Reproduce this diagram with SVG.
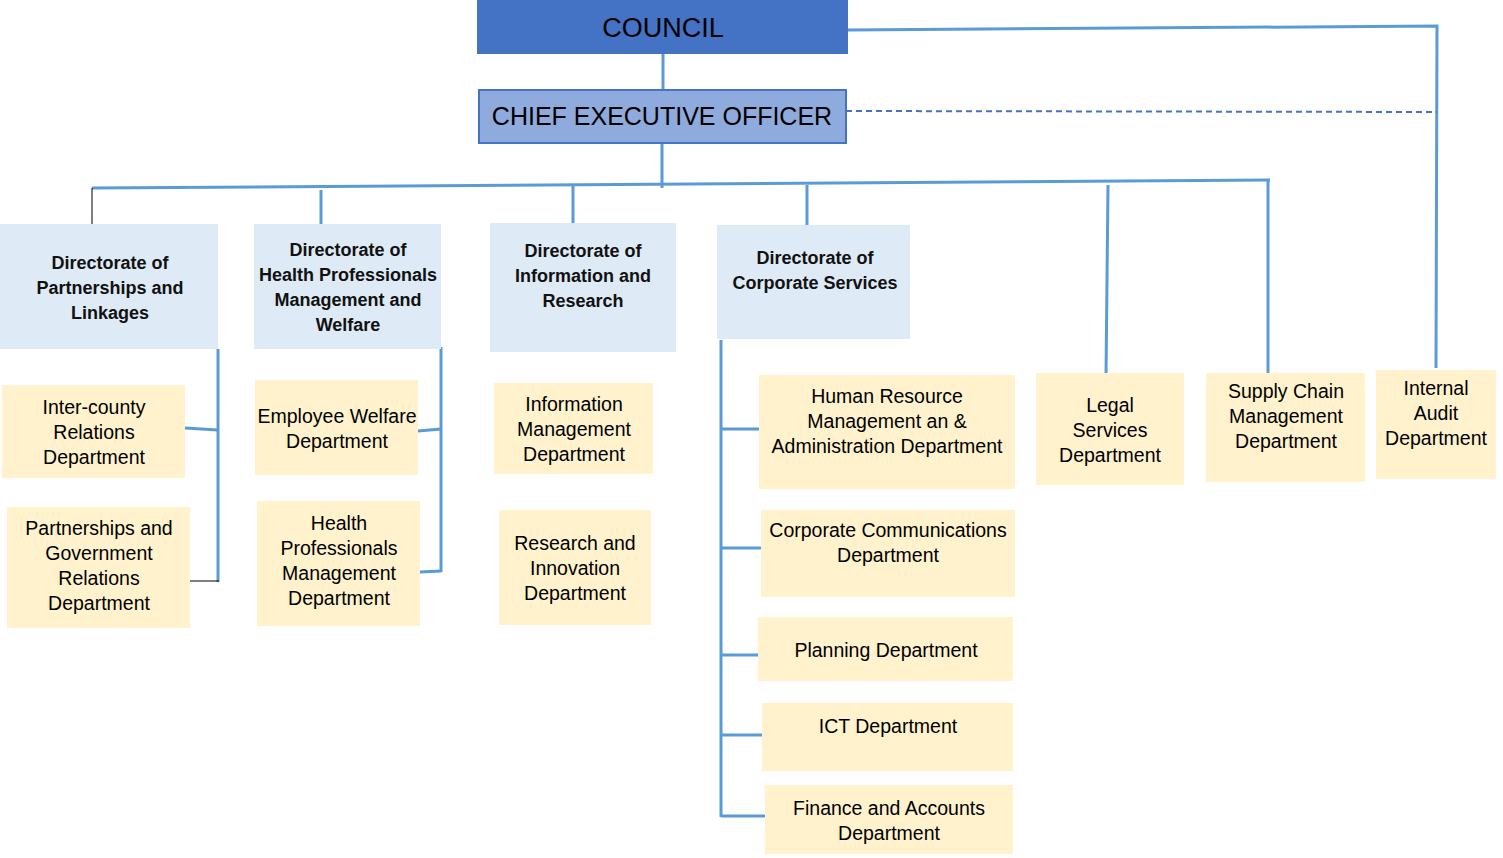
<svg xmlns="http://www.w3.org/2000/svg" width="1503" height="858" viewBox="0 0 1503 858">
<style>
text{font-family:"Liberation Sans",Arial,sans-serif;fill:#000;text-anchor:middle}
.top{font-size:25px}
.dir{font-size:18px;font-weight:bold;fill:#111}
.dept{font-size:19.5px}
.d{fill:#DEEAF6}
.p{fill:#FFF2CC}
.c{stroke:#5B9BD5;stroke-width:3;fill:none}
.k{stroke:#000;stroke-width:1;fill:none}
</style>
<rect width="1503" height="858" fill="#fff"/>
<g id="connectors">
<line class="c" x1="663" y1="54" x2="663" y2="89"/>
<line class="c" x1="662" y1="143" x2="662" y2="188"/>
<line class="c" x1="92" y1="188" x2="1270" y2="180"/>
<line class="k" x1="92" y1="188" x2="92" y2="224"/>
<line class="c" x1="321" y1="190" x2="321" y2="226"/>
<line class="c" x1="573" y1="186" x2="573" y2="228"/>
<line class="c" x1="807" y1="185" x2="807" y2="227"/>
<line class="c" x1="1108" y1="185" x2="1106" y2="377"/>
<line class="c" x1="1268" y1="180" x2="1268" y2="373"/>
<polyline class="c" points="848,30 1437,26 1436,368"/>
<line x1="846" y1="111" x2="1437" y2="112" stroke="#4472C4" stroke-width="2" stroke-dasharray="6,4"/>
<line class="c" x1="218" y1="349" x2="218" y2="582"/>
<line class="c" x1="185" y1="428" x2="218" y2="430"/>
<line class="k" x1="190" y1="581" x2="219" y2="581"/>
<line class="c" x1="441" y1="347" x2="441" y2="572"/>
<line class="c" x1="418" y1="431" x2="441" y2="429"/>
<line class="c" x1="420" y1="572" x2="441" y2="571"/>
<line class="c" x1="721" y1="340" x2="721" y2="817"/>
<line class="c" x1="721" y1="429" x2="759" y2="429"/>
<line class="c" x1="721" y1="548" x2="761" y2="548"/>
<line class="c" x1="721" y1="655" x2="758" y2="655"/>
<line class="c" x1="721" y1="735" x2="762" y2="735"/>
<line class="c" x1="721" y1="816" x2="765" y2="816"/>
</g>
<g id="council"><rect x="477" y="0" width="371" height="54" fill="#4472C4"/><text class="top" x="663" y="37" style="font-size:27px">COUNCIL</text></g>
<g id="ceo"><rect x="479" y="90" width="367" height="53" fill="#8FAADC" stroke="#4472C4" stroke-width="2"/><text class="top" x="662" y="125">CHIEF EXECUTIVE OFFICER</text></g>
<g id="dir-partnerships"><rect class="d" x="0" y="224" width="218" height="125"/><text class="dir" x="110" y="269">Directorate of</text><text class="dir" x="110" y="294">Partnerships and</text><text class="dir" x="110" y="319">Linkages</text></g>
<g id="dir-health"><rect class="d" x="254" y="224" width="187" height="125"/><text class="dir" x="348" y="256">Directorate of</text><text class="dir" x="348" y="281">Health Professionals</text><text class="dir" x="348" y="306">Management and</text><text class="dir" x="348" y="331">Welfare</text></g>
<g id="dir-info"><rect class="d" x="490" y="223" width="186" height="129"/><text class="dir" x="583" y="257">Directorate of</text><text class="dir" x="583" y="282">Information and</text><text class="dir" x="583" y="307">Research</text></g>
<g id="dir-corporate"><rect class="d" x="717" y="225" width="193" height="114"/><text class="dir" x="815" y="264">Directorate of</text><text class="dir" x="815" y="289">Corporate Services</text></g>
<g id="intercounty"><rect class="p" x="2" y="385" width="183" height="93"/><text class="dept" x="94" y="414">Inter-county</text><text class="dept" x="94" y="439">Relations</text><text class="dept" x="94" y="464">Department</text></g>
<g id="partnerships-gov"><rect class="p" x="7" y="507" width="183" height="121"/><text class="dept" x="99" y="535">Partnerships and</text><text class="dept" x="99" y="560">Government</text><text class="dept" x="99" y="585">Relations</text><text class="dept" x="99" y="610">Department</text></g>
<g id="employee-welfare"><rect class="p" x="255" y="380" width="163" height="95"/><text class="dept" x="337" y="423">Employee Welfare</text><text class="dept" x="337" y="448">Department</text></g>
<g id="health-prof"><rect class="p" x="257" y="501" width="163" height="125"/><text class="dept" x="339" y="530">Health</text><text class="dept" x="339" y="555">Professionals</text><text class="dept" x="339" y="580">Management</text><text class="dept" x="339" y="605">Department</text></g>
<g id="info-mgmt"><rect class="p" x="494" y="383" width="159" height="91"/><text class="dept" x="574" y="411">Information</text><text class="dept" x="574" y="436">Management</text><text class="dept" x="574" y="461">Department</text></g>
<g id="research"><rect class="p" x="499" y="510" width="152" height="115"/><text class="dept" x="575" y="550">Research and</text><text class="dept" x="575" y="575">Innovation</text><text class="dept" x="575" y="600">Department</text></g>
<g id="hr"><rect class="p" x="759" y="375" width="256" height="114"/><text class="dept" x="887" y="403">Human Resource</text><text class="dept" x="887" y="428">Management an &amp;</text><text class="dept" x="887" y="453">Administration Department</text></g>
<g id="corp-comm"><rect class="p" x="761" y="510" width="254" height="87"/><text class="dept" x="888" y="537">Corporate Communications</text><text class="dept" x="888" y="562">Department</text></g>
<g id="planning"><rect class="p" x="758" y="617" width="255" height="64"/><text class="dept" x="886" y="657">Planning Department</text></g>
<g id="ict"><rect class="p" x="762" y="703" width="251" height="68"/><text class="dept" x="888" y="733">ICT Department</text></g>
<g id="finance"><rect class="p" x="765" y="785" width="248" height="69"/><text class="dept" x="889" y="815">Finance and Accounts</text><text class="dept" x="889" y="840">Department</text></g>
<g id="legal"><rect class="p" x="1036" y="373" width="148" height="112"/><text class="dept" x="1110" y="412">Legal</text><text class="dept" x="1110" y="437">Services</text><text class="dept" x="1110" y="462">Department</text></g>
<g id="supply"><rect class="p" x="1206" y="373" width="159" height="109"/><text class="dept" x="1286" y="398">Supply Chain</text><text class="dept" x="1286" y="423">Management</text><text class="dept" x="1286" y="448">Department</text></g>
<g id="audit"><rect class="p" x="1376" y="370" width="120" height="109"/><text class="dept" x="1436" y="395">Internal</text><text class="dept" x="1436" y="420">Audit</text><text class="dept" x="1436" y="445">Department</text></g>
</svg>
